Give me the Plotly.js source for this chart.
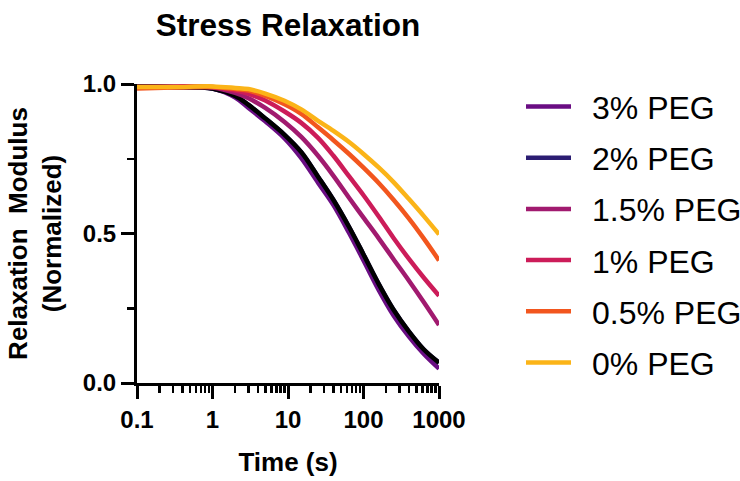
<!DOCTYPE html>
<html>
<head>
<meta charset="utf-8">
<script src="https://cdn.plot.ly/plotly-3.0.1.min.js"></script>
<style>html,body{margin:0;padding:0;background:#fff;}#chart{width:740px;height:481px;}</style>
</head>
<body>
<div id="chart"></div>
<script>
// Time (s)
const time = [0.1, 0.3, 1, 2, 3, 5, 9, 15, 25, 40, 65, 100, 160, 250, 400, 630, 1000];
// Normalized relaxation modulus per PEG concentration
const peg3   = [0.995, 0.990, 0.985, 0.955, 0.920, 0.875, 0.818, 0.752, 0.670, 0.595, 0.500, 0.410, 0.310, 0.226, 0.155, 0.097, 0.048];
const peg2   = [0.995, 0.990, 0.985, 0.960, 0.930, 0.885, 0.830, 0.772, 0.690, 0.612, 0.520, 0.430, 0.330, 0.245, 0.172, 0.112, 0.068];
const peg1_5 = [0.990, 0.990, 0.988, 0.970, 0.952, 0.920, 0.873, 0.823, 0.760, 0.693, 0.618, 0.553, 0.483, 0.414, 0.342, 0.270, 0.194];
const peg1   = [0.990, 0.992, 0.990, 0.978, 0.967, 0.945, 0.908, 0.870, 0.820, 0.760, 0.690, 0.628, 0.556, 0.485, 0.415, 0.352, 0.292];
const peg0_5 = [0.985, 0.988, 0.990, 0.983, 0.978, 0.960, 0.932, 0.900, 0.855, 0.812, 0.765, 0.720, 0.668, 0.613, 0.550, 0.483, 0.410];
const peg0   = [0.990, 0.990, 0.992, 0.987, 0.983, 0.968, 0.944, 0.915, 0.877, 0.843, 0.805, 0.766, 0.720, 0.672, 0.615, 0.558, 0.497];

const seriesNames = ['3% PEG', '2% PEG', '1.5% PEG', '1% PEG', '0.5% PEG', '0% PEG'];
const seriesData  = [peg3, peg2, peg1_5, peg1, peg0_5, peg0];
const seriesColors = ['#6a0d83', '#2b1d72', '#a11a6f', '#cc1c59', '#f2561e', '#fbb418'];

const xTickVals = [0.1, 1, 10, 100, 1000];
const xTickText = ['0.1', '1', '10', '100', '1000'];
const yTickVals = [0, 0.5, 1];
const yTickText = ['0.0', '0.5', '1.0'];

const FONT = '"Liberation Sans", Arial, sans-serif';
const LEGEND_PAD = '\u2002'; // visual gap between legend line and label

const traces = [];
seriesNames.forEach((name, i) => {
  traces.push({
    x: time, y: seriesData[i], name: LEGEND_PAD + name, type: 'scatter', mode: 'lines',
    line: {color: seriesColors[i], width: 4.5, shape: 'spline', smoothing: 1},
    legendgroup: 'g' + i, cliponaxis: false
  });
  if (name === '2% PEG') {
    traces.push({
      x: time, y: seriesData[i], name: name, type: 'scatter', mode: 'lines',
      line: {color: '#000000', width: 4.5, shape: 'spline', smoothing: 1},
      legendgroup: 'g' + i, showlegend: false, cliponaxis: false
    });
  }
});

// minor x ticks 2..9 per decade
const minorX = [];
[0.1, 1, 10, 100].forEach(d => { for (let k = 2; k <= 9; k++) minorX.push(+(d * k).toPrecision(3)); });

const layout = {
  width: 740, height: 481,
  margin: {l: 137, r: 301, t: 84, b: 98, autoexpand: false},
  paper_bgcolor: '#fff', plot_bgcolor: '#fff',
  font: {family: FONT, color: '#000'},
  title: {text: 'Stress Relaxation', font: {family: FONT, size: 31.5, weight: 'bold', color: '#000'},
          x: 0.5, xref: 'paper', xanchor: 'center', y: 1 - 25 / 481, yanchor: 'middle'},
  showlegend: true,
  legend: {x: (521 - 137) / 302, xanchor: 'left', y: 1.016, yanchor: 'top', font: {family: FONT, size: 32, color: '#000'},
           tracegroupgap: 6.6, itemwidth: 45, maxheight: 481, bgcolor: 'rgba(0,0,0,0)'},
  xaxis: {
    type: 'log', range: [-1, 3], showgrid: false, zeroline: false,
    showline: true, linecolor: '#000', linewidth: 3,
    tickmode: 'array', tickvals: xTickVals, ticktext: xTickText,
    ticks: 'outside', ticklen: 13, tickwidth: 3, tickcolor: '#000',
    tickfont: {family: FONT, size: 24, weight: 'bold', color: '#000'},
    minor: {tickmode: 'array', tickvals: minorX, ticks: 'outside', ticklen: 7, tickwidth: 2.5, tickcolor: '#000', showgrid: false},
    title: {text: 'Time (s)', font: {family: FONT, size: 26, weight: 'bold', color: '#000'}, standoff: 22},
    automargin: false
  },
  yaxis: {
    range: [0, 1], showgrid: false, zeroline: false,
    showline: true, linecolor: '#000', linewidth: 3,
    tickmode: 'array', tickvals: yTickVals, ticktext: yTickText,
    ticks: 'outside', ticklen: 13, tickwidth: 3, tickcolor: '#000',
    tickfont: {family: FONT, size: 24, weight: 'bold', color: '#000'},
    minor: {tickmode: 'array', tickvals: [0.25, 0.75], ticks: 'outside', ticklen: 7, tickwidth: 2.5, tickcolor: '#000', showgrid: false},
    title: {text: 'Relaxation\u00a0\u00a0Modulus<br>(Normalized)', font: {family: FONT, size: 26, weight: 'bold', color: '#000'}, standoff: 14},
    automargin: false
  }
};

Plotly.newPlot('chart', traces, layout, {staticPlot: true, displayModeBar: false});
</script>
</body>
</html>
